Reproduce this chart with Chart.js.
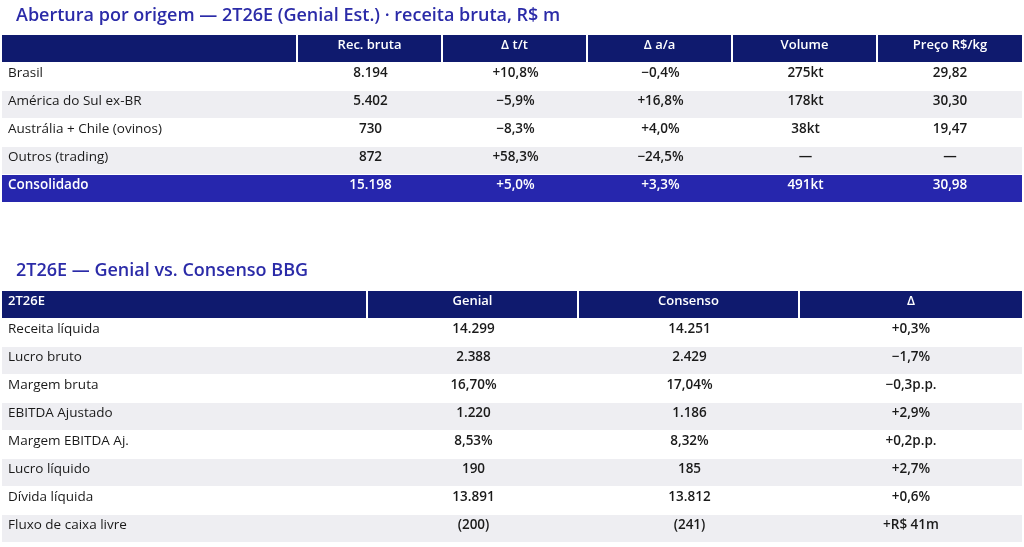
<!DOCTYPE html>
<html><head><meta charset="utf-8">
<script src="https://cdn.jsdelivr.net/npm/chart.js@4"></script>
<style>html,body{margin:0;padding:0;background:#fff}#wrap{width:1024px;height:547px}</style>
</head><body><div id="wrap"><canvas id="c"></canvas></div>
<script>
const title1 = "Abertura por origem — 2T26E (Genial Est.) · receita bruta, R$ m";
const headers1 = ["", "Rec. bruta", "Δ t/t", "Δ a/a", "Volume", "Preço R$/kg"];
const rows1 = ["Brasil", "América do Sul ex-BR", "Austrália + Chile (ovinos)", "Outros (trading)", "Consolidado"];
const recBruta = ["8.194", "5.402", "730", "872", "15.198"];
const deltaTT = ["+10,8%", "−5,9%", "−8,3%", "+58,3%", "+5,0%"];
const deltaAA = ["−0,4%", "+16,8%", "+4,0%", "−24,5%", "+3,3%"];
const volume = ["275kt", "178kt", "38kt", "—", "491kt"];
const preco = ["29,82", "30,30", "19,47", "—", "30,98"];

const title2 = "2T26E — Genial vs. Consenso BBG";
const headers2 = ["2T26E", "Genial", "Consenso", "Δ"];
const rows2 = ["Receita líquida", "Lucro bruto", "Margem bruta", "EBITDA Ajustado", "Margem EBITDA Aj.", "Lucro líquido", "Dívida líquida", "Fluxo de caixa livre"];
const genial = ["14.299", "2.388", "16,70%", "1.220", "8,53%", "190", "13.891", "(200)"];
const consenso = ["14.251", "2.429", "17,04%", "1.186", "8,32%", "185", "13.812", "(241)"];
const delta2 = ["+0,3%", "−1,7%", "−0,3p.p.", "+2,9%", "+0,2p.p.", "+2,7%", "+0,6%", "+R$ 41m"];

const NAVY = "#0f1a6e", BLUE = "#2626ad", GRAY = "#eeeef2", TITLE = "#2b2ba8";
const FONT = "'Open Sans', sans-serif";

function tableDef(top, cols, headers, labels, columns, rowStyle) {
  return {top, cols, headers, labels, columns, rowStyle};
}
const t1 = tableDef(35, [2, 298, 443, 588, 733, 878, 1022], headers1, rows1,
  [recBruta, deltaTT, deltaAA, volume, preco], i => i === 4 ? "blue" : (i % 2 ? "gray" : "white"));
const t2 = tableDef(291, [2, 368, 579, 800, 1022], headers2, rows2,
  [genial, consenso, delta2], i => (i % 2 ? "gray" : "white"));

const tablePlugin = {
  id: "tbl",
  afterDraw(chart) {
    const ctx = chart.ctx, xs = chart.scales.x, ys = chart.scales.y;
    const X = v => xs.getPixelForValue(v), Y = v => ys.getPixelForValue(v);
    ctx.save();
    ctx.textBaseline = "middle";
    ctx.fillStyle = TITLE; ctx.font = "600 18px " + FONT; ctx.textAlign = "left";
    ctx.fillText(title1, X(16), Y(16));
    ctx.fillText(title2, X(16), Y(271));
    function draw(t) {
      const rh = 28, hh = 27;
      for (let c = 0; c < t.cols.length - 1; c++) {
        const x0 = t.cols[c], x1 = t.cols[c + 1] - (c < t.cols.length - 2 ? 2 : 0);
        ctx.fillStyle = NAVY;
        ctx.fillRect(X(x0), Y(t.top), X(x1) - X(x0), Y(t.top + hh) - Y(t.top));
        ctx.fillStyle = "#fff"; ctx.font = "600 13px " + FONT;
        const cy = Y(t.top + hh / 2 - 3);
        if (c === 0) { ctx.textAlign = "left"; ctx.fillText(t.headers[0], X(x0 + 6), cy); }
        else { ctx.textAlign = "center"; ctx.fillText(t.headers[c], (X(x0) + X(x1)) / 2, cy); }
      }
      t.labels.forEach((lab, i) => {
        const y0 = t.top + hh + 1 + i * rh;
        const st = t.rowStyle(i);
        if (st !== "white") {
          ctx.fillStyle = st === "blue" ? BLUE : GRAY;
          ctx.fillRect(X(t.cols[0]), Y(y0), X(t.cols[t.cols.length - 1]) - X(t.cols[0]), Y(y0 + rh - 1) - Y(y0));
        }
        const cy = Y(y0 + rh / 2 - 4);
        ctx.fillStyle = st === "blue" ? "#fff" : "#1a1a1a";
        ctx.font = (st === "blue" ? "600 " : "400 ") + "13.5px " + FONT;
        ctx.textAlign = "left"; ctx.fillText(lab, X(t.cols[0] + 6), cy);
        ctx.font = "600 13.5px " + FONT; ctx.textAlign = "center";
        t.columns.forEach((col, c) => {
          ctx.fillText(col[i], (X(t.cols[c + 1]) + X(t.cols[c + 2])) / 2, cy);
        });
      });
    }
    draw(t1); draw(t2);
    ctx.restore();
  }
};

new Chart(document.getElementById("c"), {
  type: "scatter",
  data: { datasets: [{ data: [] }] },
  options: {
    responsive: true, maintainAspectRatio: false, animation: false,
    layout: { padding: 0 },
    plugins: { legend: { display: false }, tooltip: { enabled: false } },
    scales: {
      x: { type: "linear", min: 0, max: 1024, display: false },
      y: { type: "linear", min: 0, max: 547, reverse: true, display: false }
    }
  },
  plugins: [tablePlugin]
});
</script></body></html>
